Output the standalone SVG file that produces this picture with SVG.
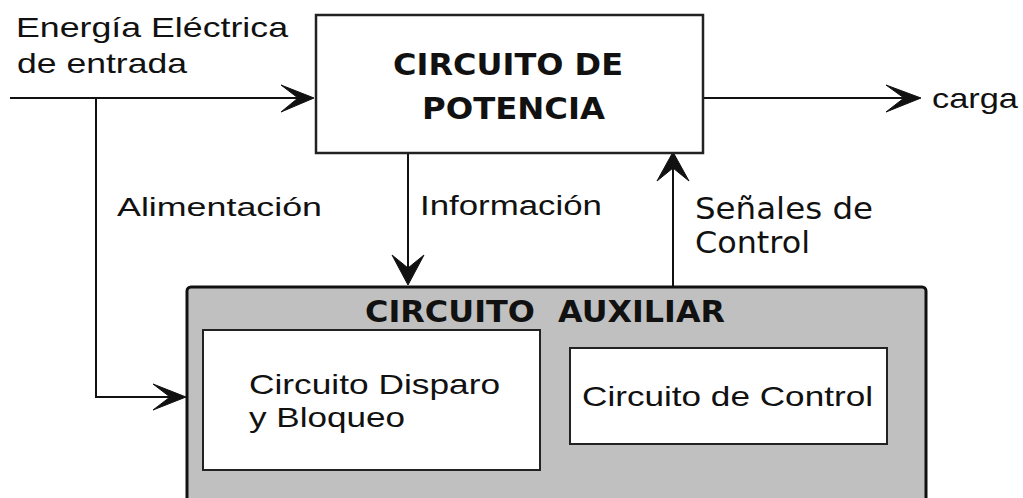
<svg xmlns="http://www.w3.org/2000/svg" width="1023" height="498" viewBox="0 0 1023 498">
<style>
.lbl{font-family:"Liberation Sans",Arial,sans-serif;fill:#111;}
.ttl{font-family:"DejaVu Sans","Liberation Sans",sans-serif;font-weight:bold;fill:#111;}
.ver{font-family:"DejaVu Sans",Verdana,sans-serif;fill:#111;}
.wire{stroke:#111;stroke-width:2;fill:none;}
.head{fill:#111;stroke:#111;stroke-width:1;stroke-linejoin:round;}
</style>
<rect width="1023" height="498" fill="#fff"/>
<g id="connectors">
  <line class="wire" x1="10" y1="98" x2="300" y2="98"/>
  <path class="head" d="M314,98 L281,85 L298,98 L281,112 Z"/>
  <polyline class="wire" points="96,98 96,397 172,397"/>
  <path class="head" d="M186,397 L153,384 L170,397 L153,410 Z"/>
  <line class="wire" x1="703" y1="98" x2="905" y2="98"/>
  <path class="head" d="M921,98 L886,85 L904,98 L886,112 Z"/>
  <line class="wire" x1="408" y1="153" x2="408" y2="270"/>
  <path class="head" d="M408,285 L392,255 L408,268 L424,255 Z"/>
  <line class="wire" x1="673" y1="287" x2="673" y2="166"/>
  <path class="head" d="M673,152 L657,181 L673,168 L689,181 Z"/>
</g>
<g id="input-label">
  <text class="lbl" x="16" y="37" font-size="28" textLength="272" lengthAdjust="spacingAndGlyphs">Energía Eléctrica</text>
  <text class="lbl" x="17" y="73" font-size="28" textLength="170" lengthAdjust="spacingAndGlyphs">de entrada</text>
</g>
<g id="power-circuit">
  <rect x="316" y="15" width="387" height="138" fill="#fff" stroke="#222" stroke-width="2.5"/>
  <text class="ttl" x="393" y="75" font-size="30" textLength="230" lengthAdjust="spacingAndGlyphs">CIRCUITO DE</text>
  <text class="ttl" x="422" y="119" font-size="30" textLength="183" lengthAdjust="spacingAndGlyphs">POTENCIA</text>
</g>
<g id="load-label">
  <text class="lbl" x="932" y="108" font-size="28" textLength="86" lengthAdjust="spacingAndGlyphs">carga</text>
</g>
<g id="edge-labels">
  <text class="lbl" x="117" y="216" font-size="26" textLength="205" lengthAdjust="spacingAndGlyphs">Alimentación</text>
  <text class="lbl" x="420" y="215" font-size="27" textLength="182" lengthAdjust="spacingAndGlyphs">Información</text>
  <text class="ver" x="695" y="219" font-size="30" textLength="178" lengthAdjust="spacingAndGlyphs">Señales de</text>
  <text class="ver" x="695" y="253" font-size="30" textLength="115" lengthAdjust="spacingAndGlyphs">Control</text>
</g>
<g id="auxiliary-circuit">
  <rect x="187" y="287" width="739" height="230" rx="4" fill="#c0c0c0" stroke="#111" stroke-width="3"/>
  <text class="ttl" y="322" font-size="30"><tspan x="365" textLength="170" lengthAdjust="spacingAndGlyphs">CIRCUITO</tspan> <tspan x="558" textLength="167" lengthAdjust="spacingAndGlyphs">AUXILIAR</tspan></text>
</g>
<g id="firing-circuit">
  <rect x="203" y="330" width="337" height="140" fill="#fff" stroke="#222" stroke-width="2"/>
  <text class="lbl" x="249" y="394" font-size="28" textLength="251" lengthAdjust="spacingAndGlyphs">Circuito Disparo</text>
  <text class="lbl" x="249" y="427" font-size="28" textLength="156" lengthAdjust="spacingAndGlyphs">y Bloqueo</text>
</g>
<g id="control-circuit">
  <rect x="570" y="348" width="317" height="96" fill="#fff" stroke="#222" stroke-width="2"/>
  <text class="lbl" x="582" y="406" font-size="28" textLength="291" lengthAdjust="spacingAndGlyphs">Circuito de Control</text>
</g>
</svg>
